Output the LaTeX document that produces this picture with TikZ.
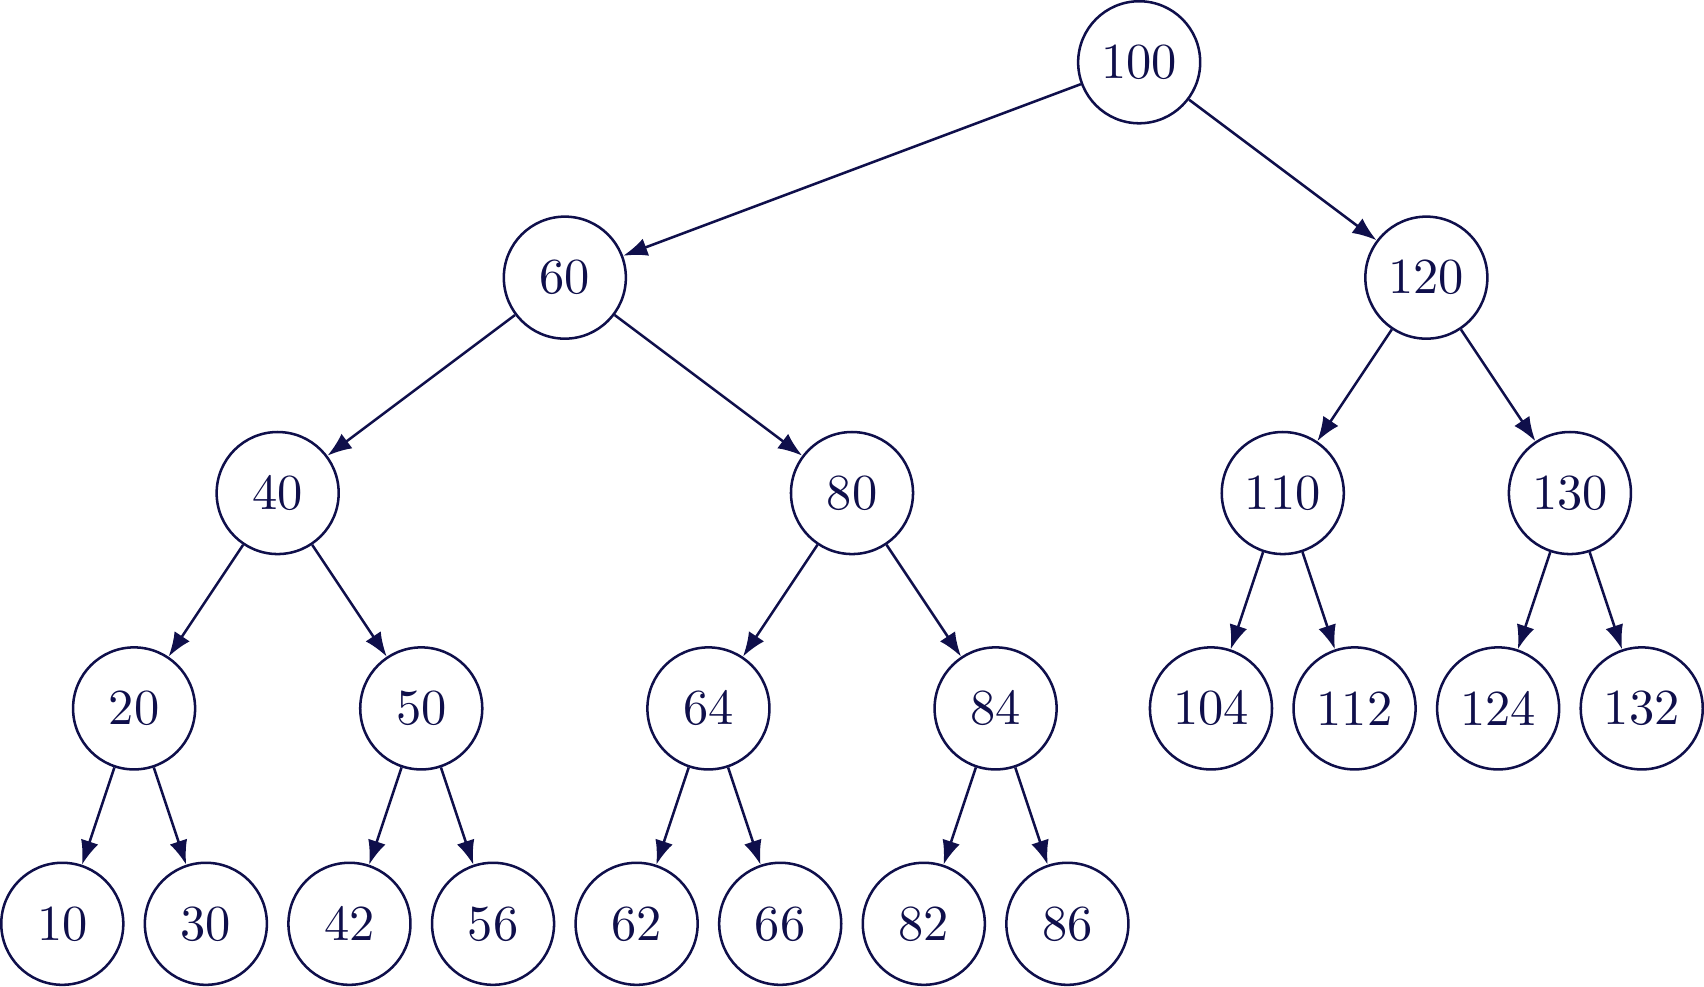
\documentclass[tikz,border=0pt]{standalone}
\usetikzlibrary{arrows.meta}
\definecolor{navy}{RGB}{15,15,75}
\begin{document}
\begin{tikzpicture}[x=1cm,y=1.5cm,
  tn/.style={circle,draw=navy,text=navy,minimum size=0.85cm,inner sep=0pt,line width=0.5pt},
  edge/.style={draw=navy,line width=0.5pt,-{Latex[length=4.8pt,width=3.6pt]}}]
\node[tn] (n100) at (7.5,4) {100};
\node[tn] (n60) at (3.5,3) {60};
\node[tn] (n120) at (9.5,3) {120};
\node[tn] (n40) at (1.5,2) {40};
\node[tn] (n80) at (5.5,2) {80};
\node[tn] (n110) at (8.5,2) {110};
\node[tn] (n130) at (10.5,2) {130};
\node[tn] (n20) at (0.5,1) {20};
\node[tn] (n50) at (2.5,1) {50};
\node[tn] (n64) at (4.5,1) {64};
\node[tn] (n84) at (6.5,1) {84};
\node[tn] (n104) at (8,1) {104};
\node[tn] (n112) at (9,1) {112};
\node[tn] (n124) at (10,1) {124};
\node[tn] (n132) at (11,1) {132};
\node[tn] (n10) at (0,0) {10};
\node[tn] (n30) at (1,0) {30};
\node[tn] (n42) at (2,0) {42};
\node[tn] (n56) at (3,0) {56};
\node[tn] (n62) at (4,0) {62};
\node[tn] (n66) at (5,0) {66};
\node[tn] (n82) at (6,0) {82};
\node[tn] (n86) at (7,0) {86};
\foreach \a/\b in {n100/n60,n100/n120,n60/n40,n60/n80,n120/n110,n120/n130,
  n40/n20,n40/n50,n80/n64,n80/n84,n110/n104,n110/n112,n130/n124,n130/n132,
  n20/n10,n20/n30,n50/n42,n50/n56,n64/n62,n64/n66,n84/n82,n84/n86}
  \draw[edge] (\a) -- (\b);
\end{tikzpicture}
\end{document}
